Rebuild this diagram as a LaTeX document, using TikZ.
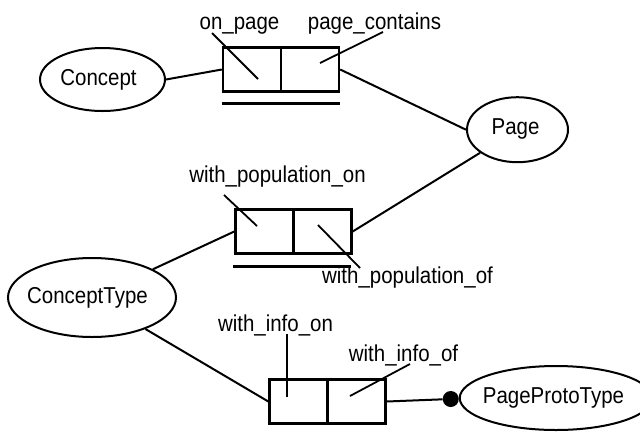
\documentclass[tikz,border=0pt]{standalone}
\usepackage{fontspec}
\setmainfont{Liberation Sans}[FakeStretch=0.89]
\usetikzlibrary{shapes.geometric}
\begin{document}
\begin{tikzpicture}[x=1pt,y=-1pt,
  every node/.style={font=\fontsize{23}{27}\selectfont},
  ent/.style={draw,ellipse,line width=2pt,inner sep=0pt},
  factbox/.style={draw,rectangle,line width=2.4pt,inner sep=0pt,minimum width=116pt,minimum height=44pt},
  lbl/.style={inner sep=0pt,anchor=base},
  conn/.style={line width=2pt},
  ptr/.style={line width=1.8pt},
  uline/.style={line width=2.8pt}]
\useasboundingbox (0,0) rectangle (640,432);
% entities
\node[ent,minimum width=125pt,minimum height=63pt] (concept) at (102.5,79.5) {\hspace*{-8pt}Concept};
\node[ent,minimum width=101pt,minimum height=65pt] (page) at (517.5,129.7) {\hspace*{-4pt}\raisebox{6pt}{Page}};
\node[ent,minimum width=168pt,minimum height=79pt] (ctype) at (92,297.5) {\hspace*{-9pt}ConceptType};
\node[ent,minimum width=168pt,minimum height=64pt] (ppt) at (556,398) {\hspace*{-5pt}\raisebox{2pt}{PageProtoType}};
% fact boxes
\node[factbox] (b1) at (281,69.5) {};
\node[factbox] (b2) at (293.5,231.5) {};
\node[factbox] (b3) at (327.5,401.5) {};
\draw[line width=2.4pt] (b1.north) -- (b1.south);
\draw[line width=2.4pt] (b2.north) -- (b2.south);
\draw[line width=2.4pt] (b3.north) -- (b3.south);
% uniqueness bars
\draw[uline] ([yshift=-11pt]b1.south west) -- ([yshift=-11pt]b1.south east);
\draw[uline] ([yshift=-12pt,xshift=-1pt]b2.south west) -- ([yshift=-12pt,xshift=-2pt]b2.south east);
% role labels
\node[lbl] (lonpage) at (239.5,29) {on\_page};
\node[lbl] (lpagec) at (374.5,29) {page\_contains};
\node[lbl] (lwpon) at (277.5,182) {with\_population\_on};
\node[lbl] (lwpof) at (407.5,283) {with\_population\_of};
\node[lbl] (lwion) at (275.5,331) {with\_info\_on};
\node[lbl] (lwiof) at (403.5,361) {with\_info\_of};
% pointer coordinates
\coordinate (p1a) at (212,33); \coordinate (p1b) at (258,79);
\coordinate (p2a) at (383,32); \coordinate (p2b) at (320,63);
\coordinate (p3a) at (224,195); \coordinate (p3b) at (257,226);
\coordinate (p4a) at (318,225); \coordinate (p4b) at (360,268);
\coordinate (p5a) at (287,334); \coordinate (p5b) at (287,397);
\coordinate (p6a) at (410,364); \coordinate (p6b) at (350,396);
\draw[ptr] (p1a) -- (p1b);
\draw[ptr] (p2a) -- (p2b);
\draw[ptr] (p3a) -- (p3b);
\draw[ptr] (p4a) -- (p4b);
\draw[ptr] (p5a) -- (p5b);
\draw[ptr] (p6a) -- (p6b);
% connectors
\draw[conn] (concept.east) -- (b1.west);
\draw[conn] (b1.east) -- (page.west);
\draw[conn] (page) -- (b2.east);
\draw[conn] (ctype) -- (b2.west);
\draw[conn] (ctype) -- (b3.west);
\node[circle,fill,inner sep=0pt,minimum size=16pt] (dot) at ([xshift=-8pt,yshift=-1pt]ppt.west) {};
\draw[conn] (b3.east) -- (dot);
\end{tikzpicture}
\end{document}
